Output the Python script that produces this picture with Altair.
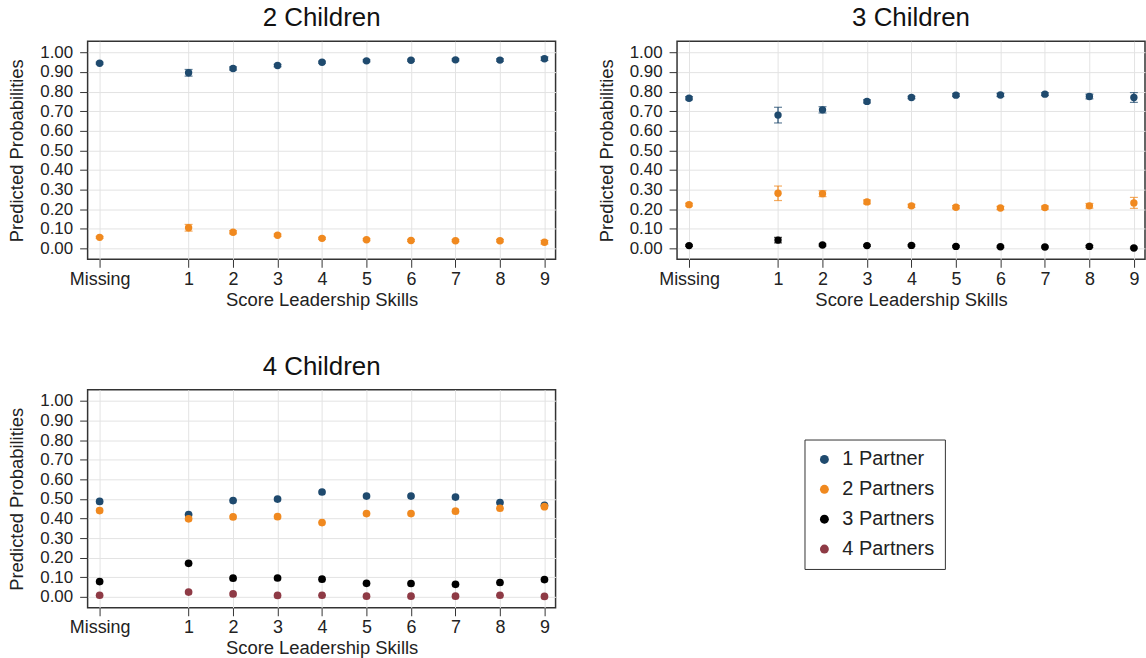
import altair as alt
import pandas as pd

# Score categories on the x axis: -1 stands for "Missing"
SCORES = [-1, 1, 2, 3, 4, 5, 6, 7, 8, 9]
Y_TICKS = [0.0, 0.1, 0.2, 0.3, 0.4, 0.5, 0.6, 0.7, 0.8, 0.9, 1.0]

PARTNERS = ["1 Partner", "2 Partners", "3 Partners", "4 Partners"]
COLORS = ["#1f4a6e", "#f0891f", "#000000", "#8e3a45"]

# --- 2 children: predicted probabilities and half-widths of the 95% CI ---
c2_p1 = [0.945, 0.896, 0.918, 0.933, 0.950, 0.957, 0.960, 0.962, 0.961, 0.968]
c2_p1_ci = [0.005, 0.017, 0.008, 0.006, 0.005, 0.005, 0.005, 0.005, 0.006, 0.009]
c2_p2 = [0.056, 0.105, 0.082, 0.067, 0.051, 0.044, 0.040, 0.039, 0.039, 0.031]
c2_p2_ci = [0.005, 0.017, 0.008, 0.006, 0.005, 0.005, 0.005, 0.005, 0.006, 0.009]

# --- 3 children ---
c3_p1 = [0.766, 0.680, 0.707, 0.750, 0.770, 0.782, 0.783, 0.787, 0.775, 0.770]
c3_p1_ci = [0.008, 0.040, 0.016, 0.008, 0.006, 0.007, 0.008, 0.007, 0.012, 0.025]
c3_p2 = [0.223, 0.281, 0.279, 0.237, 0.217, 0.210, 0.206, 0.208, 0.217, 0.232]
c3_p2_ci = [0.007, 0.037, 0.015, 0.010, 0.008, 0.008, 0.008, 0.008, 0.012, 0.028]
c3_p3 = [0.014, 0.042, 0.017, 0.014, 0.015, 0.010, 0.008, 0.007, 0.010, 0.002]
c3_p3_ci = [0.004, 0.014, 0.005, 0.004, 0.004, 0.004, 0.004, 0.004, 0.005, 0.004]

# --- 4 children (no CI drawn) ---
c4_p1 = [0.487, 0.420, 0.491, 0.499, 0.535, 0.514, 0.514, 0.509, 0.481, 0.467]
c4_p2 = [0.440, 0.398, 0.408, 0.409, 0.379, 0.425, 0.425, 0.437, 0.452, 0.460]
c4_p3 = [0.078, 0.171, 0.095, 0.096, 0.090, 0.069, 0.068, 0.064, 0.073, 0.088]
c4_p4 = [0.008, 0.024, 0.015, 0.007, 0.008, 0.003, 0.003, 0.003, 0.008, 0.002]


def frame(series):
    rows = []
    for name, probs, ci in series:
        for s, p, h in zip(SCORES, probs, ci):
            rows.append({"score": s, "partners": name, "prob": p,
                         "lo": p - h, "hi": p + h})
    return pd.DataFrame(rows)


zeros = [0.0] * len(SCORES)
df2 = frame([("1 Partner", c2_p1, c2_p1_ci), ("2 Partners", c2_p2, c2_p2_ci)])
df3 = frame([("1 Partner", c3_p1, c3_p1_ci), ("2 Partners", c3_p2, c3_p2_ci),
             ("3 Partners", c3_p3, c3_p3_ci)])
df4 = frame([("1 Partner", c4_p1, zeros), ("2 Partners", c4_p2, zeros),
             ("3 Partners", c4_p3, zeros), ("4 Partners", c4_p4, zeros)])

W, H = 470, 219

x_scale = alt.Scale(domain=[-1.27, 9.25], nice=False, zero=False)
y_scale = alt.Scale(domain=[-0.056, 1.057], nice=False, zero=False)
x_axis = alt.Axis(values=SCORES,
                  labelExpr="datum.value == -1 ? 'Missing' : datum.label",
                  title="Score Leadership Skills")
y_axis = alt.Axis(values=Y_TICKS, format=".2f", title="Predicted Probabilities")

color_enc = alt.Color(
    "partners:N",
    scale=alt.Scale(domain=PARTNERS, range=COLORS),
    legend=alt.Legend(title=None, orient="none", legendX=720, legendY=400),
)


def panel(df, title, with_ci, size):
    base = alt.Chart(df)
    pts = base.mark_circle(size=size, opacity=1).encode(
        x=alt.X("score:Q", scale=x_scale, axis=x_axis),
        y=alt.Y("prob:Q", scale=y_scale, axis=y_axis),
        color=color_enc,
    )
    layers = []
    if with_ci:
        err = base.mark_errorbar(ticks={"size": 8}, thickness=1.2).encode(
            x=alt.X("score:Q", scale=x_scale, axis=x_axis),
            y=alt.Y("lo:Q", scale=y_scale, axis=y_axis),
            y2="hi:Q",
            color=color_enc,
        )
        layers.append(err)
    layers.append(pts)
    return alt.layer(*layers).properties(width=W, height=H, title=title)


p2 = panel(df2, "2 Children", True, 55)
p3 = panel(df3, "3 Children", True, 55)
p4 = panel(df4, "4 Children", False, 60)

chart = alt.vconcat(
    alt.hconcat(p2, p3, spacing=40),
    alt.hconcat(p4, spacing=40),
    spacing=43,
).properties(
    padding={"left": 7, "top": 3, "right": 0, "bottom": 0},
    background="white",
).configure(
    font="Liberation Sans",
).configure_view(
    stroke="#333333", strokeWidth=1.5,
).configure_axis(
    domain=False,
    grid=True, gridColor="#e3e3e3", gridWidth=1,
    ticks=True, tickSize=8, tickColor="#333333", tickWidth=1,
    labelFontSize=18, labelColor="#222222", labelPadding=3,
    titleFontSize=18.5, titleFontWeight="normal", titleColor="#222222",
).configure_axisY(
    labelFontSize=17, labelPadding=7, titlePadding=13,
).configure_axisX(
    titlePadding=2,
).configure_title(
    fontSize=26, fontWeight="normal", color="#111111", anchor="middle", offset=10,
).configure_legend(
    strokeColor="#333333", padding=10, labelFontSize=20, labelColor="#222222",
    symbolType="circle", symbolSize=80, symbolStrokeWidth=0, symbolOpacity=1,
    rowPadding=10, labelOffset=8, fillColor="white",
)

chart.save("out.html", embed_options={"renderer": "svg", "actions": False})
